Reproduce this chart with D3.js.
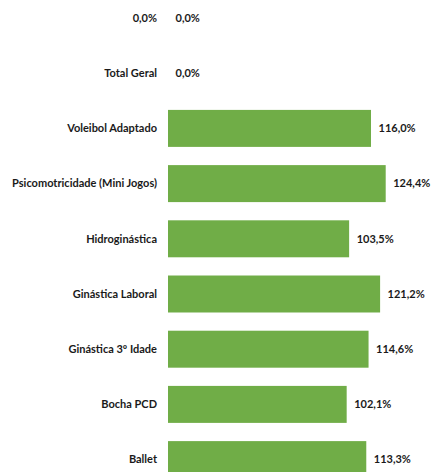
<!DOCTYPE html>
<html>
<head>
<meta charset="utf-8">
<script src="https://cdn.jsdelivr.net/npm/d3@7"></script>
<style>
  html, body { margin: 0; padding: 0; background: #fff; overflow: hidden; }
  svg { display: block; }
</style>
</head>
<body>
<div id="chart"></div>
<script>
// categories top to bottom, as shown
var categories = [
  "0,0%",
  "Total Geral",
  "Voleibol Adaptado",
  "Psicomotricidade (Mini Jogos)",
  "Hidroginástica",
  "Ginástica Laboral",
  "Ginástica 3º Idade",
  "Bocha PCD",
  "Ballet"
];
var values = [0, 0, 116.0, 124.4, 103.5, 121.2, 114.6, 102.1, 113.3];

var width = 434,
    height = 472;

var svg = d3.select("#chart").append("svg")
    .attr("width", width)
    .attr("height", height);

// plot area starts at x=168, ~1.75px per percent
var x = d3.scaleLinear()
    .domain([0, 140])
    .range([168, 168 + 140 * 1.75]);

var step = 55.2;
var y = d3.scaleBand()
    .domain(categories)
    .range([18 - step / 2, 18 - step / 2 + categories.length * step])
    .paddingInner(0.33)
    .paddingOuter(0.165);

var fmt = function(v) {
  return d3.format(".1f")(v).replace(".", ",") + "%";
};

var rows = svg.selectAll(".row")
    .data(categories.map(function(c, i) { return { cat: c, val: values[i] }; }))
    .enter()
    .append("g")
    .attr("class", "row");

rows.append("rect")
    .attr("x", x(0))
    .attr("y", function(d) { return y(d.cat); })
    .attr("width", function(d) { return x(d.val) - x(0); })
    .attr("height", y.bandwidth())
    .style("fill", "#70ad47");

rows.append("text")
    .attr("x", x(0) - 11)
    .attr("y", function(d) { return y(d.cat) + y.bandwidth() / 2; })
    .attr("dy", "0.35em")
    .attr("text-anchor", "end")
    .style("font-family", "Lato, 'Open Sans', sans-serif")
    .style("font-weight", "bold")
    .style("font-size", "11px")
    .style("fill", "#1a1a1a")
    .text(function(d) { return d.cat; });

rows.append("text")
    .attr("x", function(d) { return x(d.val) + 7.5; })
    .attr("y", function(d) { return y(d.cat) + y.bandwidth() / 2; })
    .attr("dy", "0.35em")
    .style("font-family", "Lato, 'Open Sans', sans-serif")
    .style("font-weight", "bold")
    .style("font-size", "11px")
    .style("fill", "#1a1a1a")
    .text(function(d) { return fmt(d.val); });
</script>
</body>
</html>
